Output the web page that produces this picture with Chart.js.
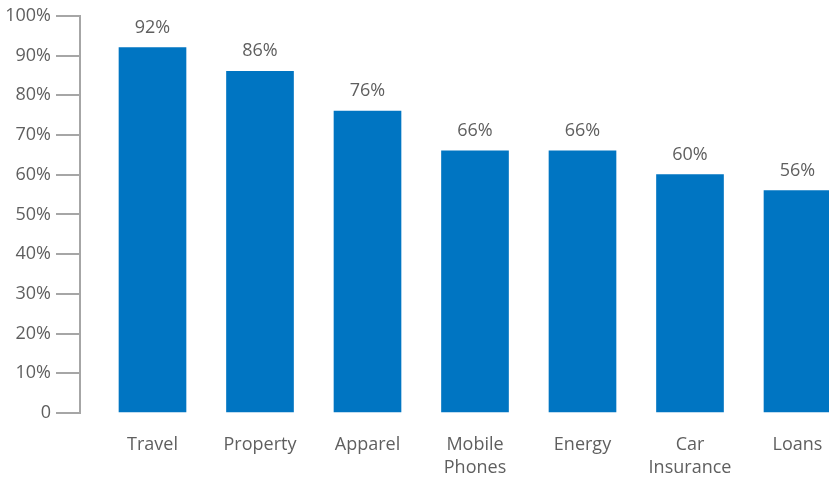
<!DOCTYPE html>
<html>
<head>
<meta charset="utf-8">
<script src="https://cdn.jsdelivr.net/npm/chart.js@4/dist/chart.umd.min.js"></script>
<style>
  html, body { margin: 0; padding: 0; background: #fff; overflow: hidden; }
  canvas { display: block; }
</style>
</head>
<body>
<canvas id="bars" width="829" height="478"></canvas>
<script>
const categories = ['Travel', 'Property', 'Apparel', ['Mobile', 'Phones'], 'Energy', ['Car', 'Insurance'], 'Loans']
const shares = [92, 86, 76, 66, 66, 60, 56]
const yTicks = [0, 10, 20, 30, 40, 50, 60, 70, 80, 90, 100]

const textColor = '#5f5f5f'
const axisColor = '#a6a6a6'
const barColor = '#0075c2'

// percent labels above each bar
const valueLabels = {
    id: 'valueLabels',
    afterDatasetsDraw(chart) {
        const ctx = chart.ctx
        const meta = chart.getDatasetMeta(0)
        ctx.save()
        ctx.font = '18px "Open Sans"'
        ctx.fillStyle = textColor
        ctx.textAlign = 'center'
        ctx.textBaseline = 'alphabetic'
        meta.data.forEach(function(bar, i) {
            ctx.fillText(shares[i] + '%', bar.x, bar.y - 15)
        })
        ctx.restore()
    }
}

let ctx = document.getElementById('bars')

let chartGraph = new Chart(ctx, {
    type: 'bar',
    data: {
        datasets: [{
            data: shares.map(function(v, i) { return { x: i, y: v } }),
            backgroundColor: barColor,
            borderWidth: 0,
            barThickness: 67
        }]
    },
    options: {
        responsive: false,
        animation: false,
        devicePixelRatio: 1,
        layout: { padding: { top: 15, right: 0, bottom: 0, left: 0 } },
        plugins: {
            legend: { display: false },
            tooltip: { enabled: false }
        },
        scales: {
            x: {
                type: 'linear',
                offset: false,
                min: -0.6744,
                max: 6.293,
                grid: { display: false, drawTicks: false, offset: false },
                border: { display: false },
                afterBuildTicks: function(scale) {
                    scale.ticks = categories.map(function(c, i) { return { value: i } })
                },
                afterFit: function(scale) {
                    scale.height = 65
                    scale.paddingLeft = 0
                    scale.paddingRight = 0
                },
                ticks: {
                    autoSkip: false,
                    maxRotation: 0,
                    padding: 20,
                    color: textColor,
                    font: { family: 'Open Sans', size: 18, lineHeight: 1.3 },
                    callback: function(value) { return categories[value] }
                }
            },
            y: {
                min: 0,
                max: 100,
                afterBuildTicks: function(scale) {
                    scale.ticks = yTicks.map(function(v) { return { value: v } })
                },
                afterFit: function(scale) { scale.width = 80 },
                grid: {
                    drawOnChartArea: false,
                    drawTicks: true,
                    tickLength: 24,
                    color: axisColor,
                    lineWidth: 2
                },
                border: { display: true, color: axisColor, width: 2 },
                ticks: {
                    padding: 5,
                    color: textColor,
                    font: { family: 'Open Sans', size: 18 },
                    callback: function(value) { return value === 0 ? '0' : value + '%' }
                }
            }
        }
    },
    plugins: [valueLabels]
});
</script>
</body>
</html>
